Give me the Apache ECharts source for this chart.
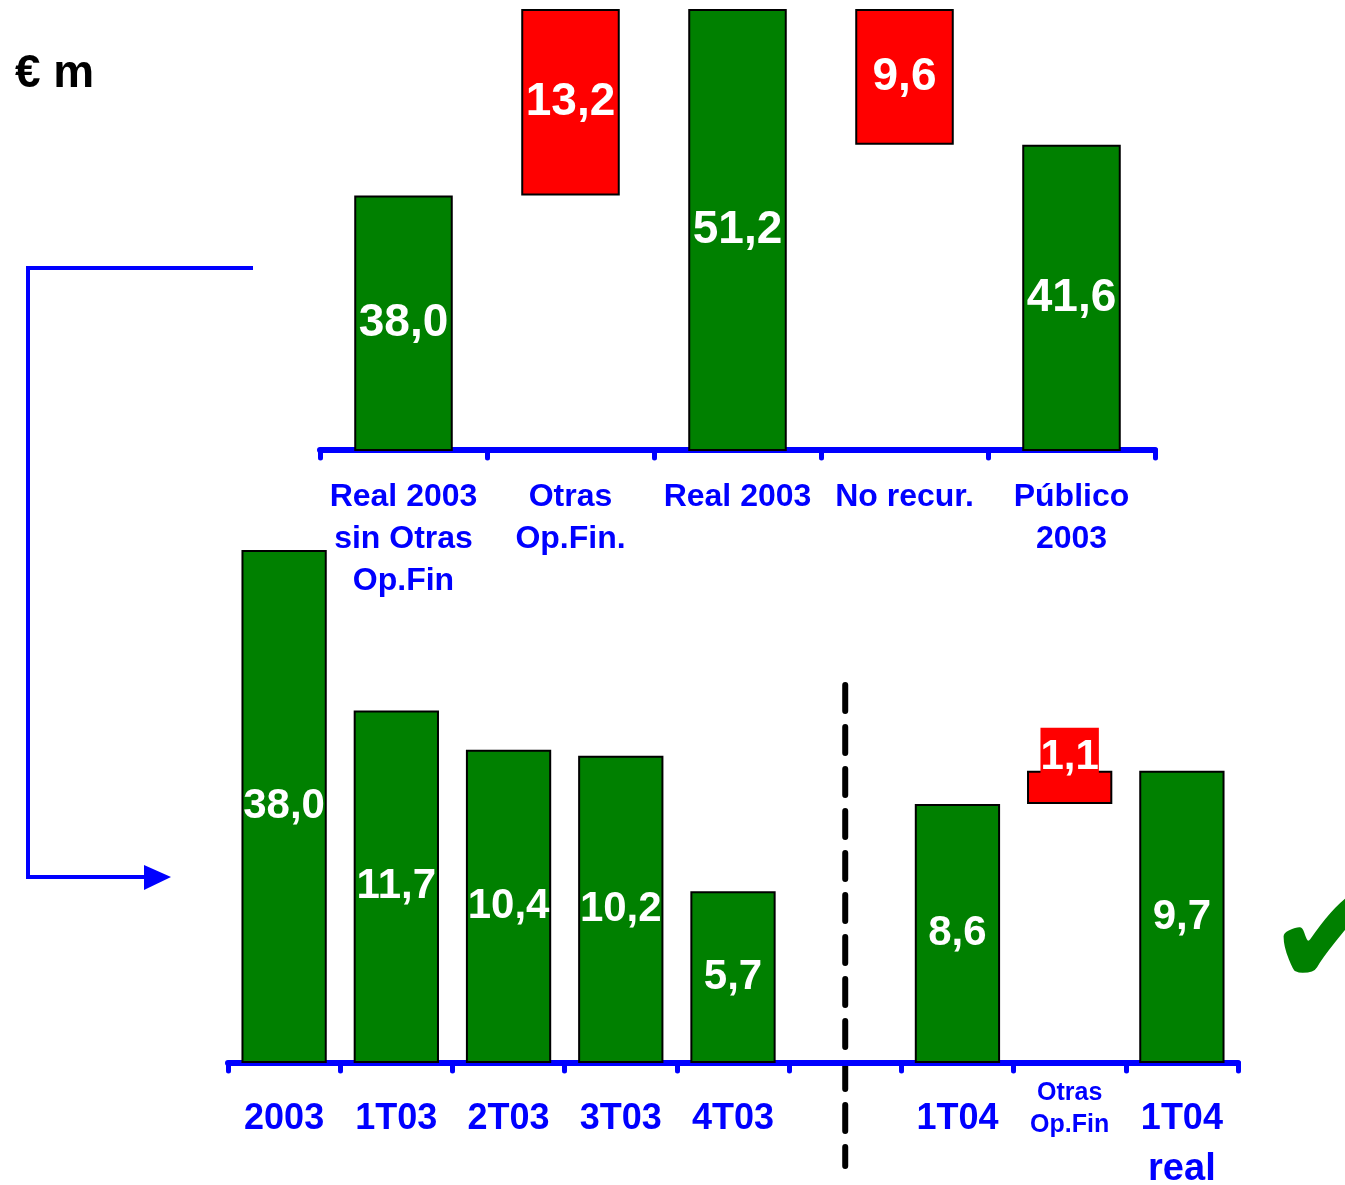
<!DOCTYPE html>
<html>
<head>
<meta charset="utf-8">
<script src="https://cdn.jsdelivr.net/npm/echarts@6/dist/echarts.min.js"></script>
<style>html,body{margin:0;padding:0;background:#fff}#c{width:1345px;height:1185px}</style>
</head>
<body>
<div id="c"></div>
<script>
// ---- data ----
const topCategories = ['Real 2003\nsin Otras\nOp.Fin', 'Otras\nOp.Fin.', 'Real 2003', 'No recur.', 'Público\n2003'];
const topGreen = [38.0, null, 51.2, null, 41.6];
const topRed = [null, 13.2, null, 9.6, null];
const topBase = [null, 38.0, null, 41.6, null];

const bottomCategories = ['2003', '1T03', '2T03', '3T03', '4T03', '', '1T04', 'Otras\nOp.Fin', '1T04\nreal'];
const bottomGreen = [38.0, 11.7, 10.4, 10.2, 5.7, null, 8.6, null, 9.7];
const bottomRed = [null, null, null, null, null, null, null, 1.1, null];
const bottomBase = [null, null, null, null, null, null, null, 8.6, null];
const dividerIndex = 5;

// ---- styles ----
const FONT = '"Liberation Sans", Arial, sans-serif';
const GREEN = '#008000', RED = '#FF0000', BLUE = '#0000FF';
const fmt = p => (p.value == null ? '' : p.value.toFixed(1).replace('.', ','));

const chart = echarts.init(document.getElementById('c'), null, {renderer: 'canvas'});

function axisCommon() {
  return {
    type: 'category',
    boundaryGap: true,
    axisLine: {show: true, lineStyle: {color: BLUE, width: 6, cap: 'round'}},
    axisTick: {show: true, length: 8, lineStyle: {color: BLUE, width: 5, cap: 'round'}},
    splitLine: {show: false}
  };
}

const valLabel = (size) => ({
  show: true, position: 'inside', formatter: fmt,
  color: '#fff', fontFamily: FONT, fontWeight: 'bold', fontSize: size
});

const option = {
  animation: false,
  backgroundColor: '#fff',
  grid: [
    {left: 320, right: 190, top: 9, bottom: 735, outerBoundsMode: 'none', containLabel: false},
    {left: 228, right: 107, top: 551, bottom: 122, outerBoundsMode: 'none', containLabel: false}
  ],
  xAxis: [
    Object.assign(axisCommon(), {
      gridIndex: 0, data: topCategories,
      axisLabel: {interval: 0, margin: 26, color: BLUE, fontFamily: FONT, fontWeight: 'bold',
        fontSize: 32, lineHeight: 42}
    }),
    Object.assign(axisCommon(), {
      gridIndex: 1, data: bottomCategories,
      axisLabel: {
        interval: 0, margin: 14, color: BLUE, fontFamily: FONT, fontWeight: 'bold',
        formatter: function (v) {
          if (v === 'Otras\nOp.Fin') return v.split('\n').map(s => '{s|' + s + '}').join('\n');
          const parts = v.split('\n');
          return parts.map((s, i) => (i === 0 ? '{b1|' + s + '}' : '{b|' + s + '}')).join('\n');
        },
        rich: {
          s: {color: BLUE, fontFamily: FONT, fontWeight: 'bold', fontSize: 25, lineHeight: 32},
          b1: {color: BLUE, fontFamily: FONT, fontWeight: 'bold', fontSize: 36, lineHeight: 84},
          b: {color: BLUE, fontFamily: FONT, fontWeight: 'bold', fontSize: 38, lineHeight: 18}
        }
      }
    })
  ],
  yAxis: [
    {type: 'value', gridIndex: 0, min: 20, max: 51.2, show: false, splitLine: {show: false}},
    {type: 'value', gridIndex: 1, min: 0, max: 17, show: false, splitLine: {show: false}}
  ],
  series: [
    // top chart
    {type: 'bar', xAxisIndex: 0, yAxisIndex: 0, stack: 't', barWidth: '59%', data: topBase,
      itemStyle: {color: 'transparent'}, label: {show: false}, silent: true},
    {type: 'bar', xAxisIndex: 0, yAxisIndex: 0, stack: 't', barWidth: '59%', data: topGreen,
      itemStyle: {color: GREEN, borderColor: '#000', borderWidth: 2}, label: valLabel(46)},
    {type: 'bar', xAxisIndex: 0, yAxisIndex: 0, stack: 't', barWidth: '59%', data: topRed,
      itemStyle: {color: RED, borderColor: '#000', borderWidth: 2}, label: valLabel(46)},
    // bottom chart
    {type: 'bar', xAxisIndex: 1, yAxisIndex: 1, stack: 'b', barWidth: '76%', data: bottomBase,
      itemStyle: {color: 'transparent'}, label: {show: false}, silent: true},
    {type: 'bar', xAxisIndex: 1, yAxisIndex: 1, stack: 'b', barWidth: '76%', data: bottomGreen,
      itemStyle: {color: GREEN, borderColor: '#000', borderWidth: 2}, label: valLabel(42)},
    {type: 'bar', xAxisIndex: 1, yAxisIndex: 1, stack: 'b', barWidth: '76%', data: bottomRed,
      itemStyle: {color: RED, borderColor: '#000', borderWidth: 2},
      label: Object.assign(valLabel(42), {position: 'top', distance: -9, backgroundColor: RED,
        lineHeight: 44, padding: [8, 0, 0, 0]})}
  ]
};
chart.setOption(option);

// decorations
const dx = chart.convertToPixel({xAxisIndex: 1}, dividerIndex);
chart.setOption({
  graphic: [
    {type: 'text', left: 15, top: 51, style: {text: '€ m', fill: '#000', font: 'bold 46px ' + FONT}},
    {type: 'polyline', shape: {points: [[253, 268], [28, 268], [28, 877], [150, 877]]},
      style: {stroke: BLUE, lineWidth: 4, fill: null}},
    {type: 'polygon', shape: {points: [[144, 865], [171, 877], [144, 890]]}, style: {fill: BLUE}},
    {type: 'line', shape: {x1: dx, y1: 685, x2: dx, y2: 1166},
      style: {stroke: '#000', lineWidth: 6, lineDash: [26, 16], lineCap: 'round'}},
    {type: 'text', x: 1266, y: 871, style: {text: '✔', fill: GREEN, font: '152px "DejaVu Sans", sans-serif'}}
  ]
});
</script>
</body>
</html>
